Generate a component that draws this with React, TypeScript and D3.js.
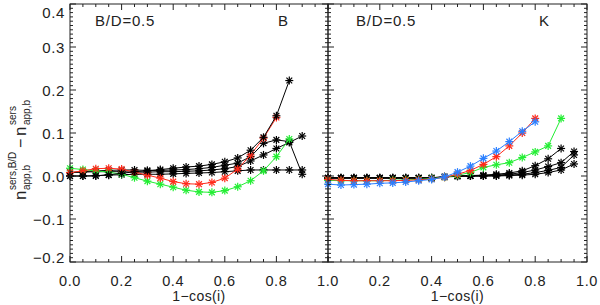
import React from "react";
import * as d3 from "d3";

// x grid of the inclination samples (1 - cos i)
const xLeft = [0, 0.05, 0.1, 0.15, 0.2, 0.25, 0.3, 0.35, 0.4, 0.45, 0.5, 0.55, 0.6, 0.65, 0.7, 0.75, 0.8, 0.85, 0.9];
const xRight = [0, 0.05, 0.1, 0.15, 0.2, 0.25, 0.3, 0.35, 0.4, 0.45, 0.5, 0.55, 0.6, 0.65, 0.7, 0.75, 0.8, 0.85, 0.9, 0.95];

// B band (left panel)
const bGreen = [0.018, 0.015, 0.012, 0.009, 0.004, -0.004, -0.012, -0.019, -0.026, -0.033, -0.037, -0.038, -0.034, -0.025, -0.011, 0.012, 0.045, 0.086];
const bRed = [0.008, 0.012, 0.017, 0.018, 0.016, 0.009, 0.002, -0.005, -0.013, -0.018, -0.019, -0.015, -0.005, 0.016, 0.049, 0.088, 0.136];
const bBlack1 = [0.0, 0.0, 0.0, 0.003, 0.006, 0.01, 0.012, 0.015, 0.018, 0.021, 0.023, 0.027, 0.033, 0.042, 0.06, 0.09, 0.14, 0.222];
const bBlack2 = [0.008, 0.01, 0.012, 0.013, 0.014, 0.014, 0.013, 0.013, 0.014, 0.015, 0.017, 0.02, 0.025, 0.03, 0.045, 0.076, 0.084, 0.08, 0.004];
const bBlack3 = [0.008, 0.009, 0.01, 0.01, 0.01, 0.009, 0.009, 0.01, 0.01, 0.011, 0.012, 0.014, 0.017, 0.022, 0.035, 0.049, 0.064, 0.078, 0.093];
const bBlack4 = [0.0, 0.0, 0.001, 0.002, 0.003, 0.004, 0.004, 0.004, 0.005, 0.006, 0.007, 0.008, 0.01, 0.012, 0.014, 0.014, 0.014, 0.014, 0.014];

// K band (right panel)
const kBlue = [-0.019, -0.021, -0.02, -0.019, -0.017, -0.016, -0.014, -0.011, -0.008, -0.002, 0.009, 0.023, 0.041, 0.058, 0.08, 0.104, 0.126];
const kRed = [-0.008, -0.01, -0.011, -0.011, -0.011, -0.011, -0.01, -0.009, -0.007, -0.003, 0.004, 0.013, 0.027, 0.045, 0.07, 0.1, 0.134];
const kGreen = [-0.01, -0.011, -0.011, -0.011, -0.011, -0.01, -0.009, -0.008, -0.006, -0.003, 0.002, 0.008, 0.02, 0.026, 0.031, 0.043, 0.056, 0.07, 0.134];
const kBlack1 = [-0.005, -0.005, -0.005, -0.005, -0.005, -0.005, -0.005, -0.005, -0.005, -0.002, 0.0, 0.001, 0.002, 0.004, 0.007, 0.012, 0.024, 0.04, 0.064];
const kBlack2 = [-0.005, -0.005, -0.005, -0.005, -0.005, -0.005, -0.005, -0.005, -0.005, -0.002, 0.0, 0.0, 0.001, 0.002, 0.004, 0.008, 0.014, 0.022, 0.031, 0.057];
const kBlack3 = [-0.004, -0.004, -0.004, -0.004, -0.004, -0.004, -0.004, -0.004, -0.004, -0.002, 0.0, 0.0, 0.0, 0.001, 0.002, 0.004, 0.008, 0.013, 0.02, 0.049];
const kBlack4 = [-0.004, -0.004, -0.004, -0.004, -0.004, -0.004, -0.004, -0.004, -0.004, -0.002, -0.001, 0.0, 0.0, 0.0, 0.001, 0.002, 0.004, 0.008, 0.014, 0.028];

const xTicksLeft = [0, 0.2, 0.4, 0.6, 0.8, 1.0];
const xTicksRight = [0.2, 0.4, 0.6, 0.8, 1.0];
const yTicks = [-0.2, -0.1, 0.0, 0.1, 0.2, 0.3, 0.4];

const RED = "#ff2a1a";
const GREEN = "#22ee33";
const BLUE = "#2a7fff";
const BLACK = "#000";

type Series = { ys: number[]; color: string };

const leftSeries: Series[] = [
  { ys: bBlack4, color: BLACK },
  { ys: bBlack3, color: BLACK },
  { ys: bBlack2, color: BLACK },
  { ys: bGreen, color: GREEN },
  { ys: bRed, color: RED },
  { ys: bBlack1, color: BLACK },
];
const rightSeries: Series[] = [
  { ys: kBlack4, color: BLACK },
  { ys: kBlack3, color: BLACK },
  { ys: kBlack2, color: BLACK },
  { ys: kBlack1, color: BLACK },
  { ys: kGreen, color: GREEN },
  { ys: kRed, color: RED },
  { ys: kBlue, color: BLUE },
];

const top = 4;
const bottom = 262;
const font = "'Liberation Sans', Arial, sans-serif";
const ink = "#222";

const y = d3.scaleLinear().domain([-0.2, 0.4]).range([bottom, top]);
const fmt = (v: number) => d3.format(".1f")(v).replace("-", "\u2212");

function Star({ cx, cy, color }: { cx: number; cy: number; color: string }) {
  const r = 4;
  const d = r * 0.72;
  return (
    <g stroke={color} strokeWidth={1.2}>
      <line x1={cx - r} y1={cy} x2={cx + r} y2={cy} />
      <line x1={cx} y1={cy - r} x2={cx} y2={cy + r} />
      <line x1={cx - d} y1={cy - d} x2={cx + d} y2={cy + d} />
      <line x1={cx - d} y1={cy + d} x2={cx + d} y2={cy - d} />
    </g>
  );
}

function Panel({
  x0,
  x1,
  xs,
  series,
  labels,
}: {
  x0: number;
  x1: number;
  xs: number[];
  series: Series[];
  labels: number[];
}) {
  const x = d3.scaleLinear().domain([0, 1]).range([x0, x1]);
  const line = d3
    .line<number>()
    .x((_, i) => x(xs[i]))
    .y((v) => y(v));
  const xMinor = d3.range(0, 1.0001, 0.05);
  const yMinor = d3.range(-0.2, 0.4001, 0.01);
  const ticks: JSX.Element[] = [];
  xMinor.forEach((t, i) => {
    const len = i % 4 === 0 ? 6 : 3;
    ticks.push(<line key={"xb" + i} x1={x(t)} x2={x(t)} y1={bottom} y2={bottom - len} />);
    ticks.push(<line key={"xt" + i} x1={x(t)} x2={x(t)} y1={top} y2={top + len} />);
  });
  yMinor.forEach((t, i) => {
    const len = i % 10 === 0 ? 6 : 3;
    ticks.push(<line key={"yl" + i} x1={x0} x2={x0 + len} y1={y(t)} y2={y(t)} />);
    ticks.push(<line key={"yr" + i} x1={x1} x2={x1 - len} y1={y(t)} y2={y(t)} />);
  });
  return (
    <g>
      {series.map((s, si) => (
        <g key={si}>
          <path d={line(s.ys) ?? ""} fill="none" stroke={s.color} strokeWidth={1} />
          {s.ys.map((v, i) => (
            <Star key={i} cx={x(xs[i])} cy={y(v)} color={s.color} />
          ))}
        </g>
      ))}
      <rect x={x0} y={top} width={x1 - x0} height={bottom - top} fill="none" stroke={ink} strokeWidth={1} />
      <g stroke={ink} strokeWidth={1}>{ticks}</g>
      {labels.map((t) => (
        <text key={t} x={x(t)} y={286} textAnchor="middle" fontSize={14.5} letterSpacing={0.6} fill={ink} fontFamily={font}>
          {fmt(t)}
        </text>
      ))}
      <text x={(x0 + x1) / 2} y={301} textAnchor="middle" fontSize={14} letterSpacing={0.4} fill={ink} fontFamily={font}>
        1{"\u2212"}cos(i)
      </text>
    </g>
  );
}

export default function App() {
  const xL0 = 70;
  const xMid = 328;
  const xR1 = 587;
  // IDL keeps the end labels inside the axis span
  const labelY = (t: number) => Math.min(Math.max(y(t), top + 8.5), bottom - 5) + 5.5;
  return (
    <svg width={600} height={305} style={{ position: "absolute", left: 0, top: 0, background: "#fff" }}>
      <rect width={600} height={305} fill="#fff" />
      <Panel x0={xL0} x1={xMid} xs={xLeft} series={leftSeries} labels={xTicksLeft} />
      <Panel x0={xMid} x1={xR1} xs={xRight} series={rightSeries} labels={xTicksRight} />
      {yTicks.map((t) => (
        <text key={t} x={65} y={labelY(t)} textAnchor="end" fontSize={15} letterSpacing={0.6} fill={ink} fontFamily={font}>
          {fmt(t)}
        </text>
      ))}
      <text x={95} y={26} fontSize={15} letterSpacing={0.8} fill={ink} fontFamily={font}>B/D=0.5</text>
      <text x={278} y={26} fontSize={15} fill={ink} fontFamily={font}>B</text>
      <text x={356} y={26} fontSize={15} letterSpacing={0.8} fill={ink} fontFamily={font}>B/D=0.5</text>
      <text x={539} y={26} fontSize={15} fill={ink} fontFamily={font}>K</text>
      <g transform="translate(26,200) rotate(-90)" fill={ink} fontFamily={font}>
        <text x={0} y={0} fontSize={17}>n</text>
        <text x={10} y={-10} fontSize={10}>sers,B/D</text>
        <text x={10} y={4} fontSize={10}>app,b</text>
        <text x={52} y={0} fontSize={16}>{"\u2212"}</text>
        <text x={64} y={0} fontSize={17}>n</text>
        <text x={75} y={-10} fontSize={10}>sers</text>
        <text x={75} y={4} fontSize={10}>app,b</text>
      </g>
    </svg>
  );
}
